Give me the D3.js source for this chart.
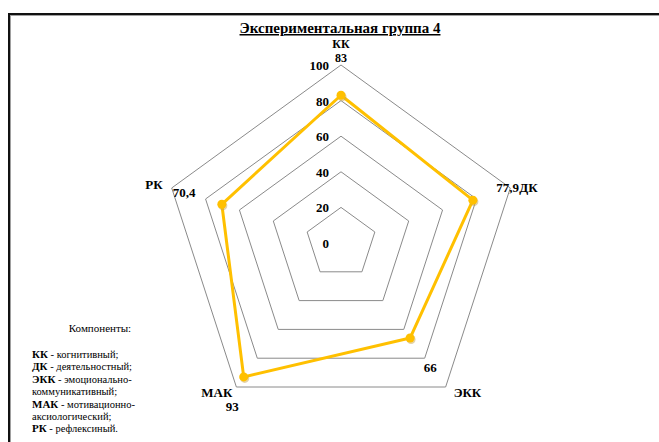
<!DOCTYPE html>
<html>
<head>
<meta charset="utf-8">
<script src="https://cdn.jsdelivr.net/npm/d3@7"></script>
<style>
  body { margin: 0; background: #fff; }
  svg { display: block; font-family: "Liberation Serif", "Times New Roman", serif; }
</style>
</head>
<body>
<svg id="chart" width="659" height="442"></svg>
<script>
// Chart data
const categories = ["КК", "ДК", "ЭКК", "МАК", "РК"];
const values = [83, 77.9, 66, 93, 70.4];
const valueLabels = ["83", "77,9", "66", "93", "70,4"];
const ringTicks = [20, 40, 60, 80, 100];
const tickLabels = ["0", "20", "40", "60", "80", "100"];

const svg = d3.select("#chart");

// Frame (black line with grey shadow)
svg.append("path")
    .attr("d", "M10,442 L10,15 L659,15")
    .attr("fill", "none").attr("stroke", "#a0a0a0").attr("stroke-width", 2);
svg.append("path")
    .attr("d", "M9,442 L9,14 L659,14")
    .attr("fill", "none").attr("stroke", "#111").attr("stroke-width", 2);

// Title
svg.append("text")
    .attr("x", 340).attr("y", 33)
    .attr("text-anchor", "middle")
    .style("font-size", "15px")
    .style("font-weight", "bold")
    .style("text-decoration", "underline")
    .text("Экспериментальная группа 4");

const cx = 341, cy = 243, R = 178;
const r = d3.scaleLinear().domain([0, 100]).range([0, R]);
const angle = d3.scalePoint().domain(categories).range([0, 2 * Math.PI * 4 / 5]);

function pt(cat, v) {
    const a = angle(cat) - Math.PI / 2;
    return [cx + r(v) * Math.cos(a), cy + r(v) * Math.sin(a)];
}

const g = svg.append("g");

// Ring gridlines
ringTicks.forEach(t => {
    g.append("path")
        .attr("d", d3.line()(categories.map(c => pt(c, t))) + "Z")
        .attr("fill", "none")
        .attr("stroke", "#8a8a8a")
        .attr("stroke-width", 1);
});

// Radial tick labels
[0].concat(ringTicks).forEach((t, i) => {
    g.append("text")
        .attr("x", cx - 12)
        .attr("y", cy - r(t) + 5)
        .attr("text-anchor", "end")
        .style("font-size", "13px")
        .style("font-weight", "bold")
        .text(tickLabels[i]);
});

// Data line
const pts = categories.map((c, i) => pt(c, values[i]));
g.append("path")
    .attr("d", d3.line()(pts) + "Z")
    .attr("fill", "none")
    .attr("stroke", "#ffc000")
    .attr("stroke-width", 3)
    .attr("stroke-linejoin", "round");

// Markers with soft shadow
pts.forEach(p => {
    g.append("circle")
        .attr("cx", p[0] + 1).attr("cy", p[1] + 1.5).attr("r", 4.5)
        .attr("fill", "#c9a650").attr("opacity", 0.5);
    g.append("circle")
        .attr("cx", p[0]).attr("cy", p[1]).attr("r", 4.5)
        .attr("fill", "#ffc000");
});

// Category labels and value labels (offsets relative to outer vertex)
const catOffsets = [[0, -17], [9, 4], [8, 10], [-4, 10], [-9, 1]];
const catAnchor = ["middle", "start", "start", "end", "end"];
const valOffsets = [[0, -3], [-14, 4], [-22, -15], [-4, 24], [1, 9]];
const valAnchor = ["middle", "start", "start", "middle", "start"];
categories.forEach((c, i) => {
    const p = pt(c, 100);
    g.append("text")
        .attr("x", p[0] + catOffsets[i][0])
        .attr("y", p[1] + catOffsets[i][1])
        .attr("text-anchor", catAnchor[i])
        .style("font-size", i === 0 ? "12px" : "13px")
        .style("font-weight", "bold")
        .text(c);
    g.append("text")
        .attr("x", p[0] + valOffsets[i][0])
        .attr("y", p[1] + valOffsets[i][1])
        .attr("text-anchor", valAnchor[i])
        .style("font-size", i === 0 ? "12px" : "13px")
        .style("font-weight", "bold")
        .text(valueLabels[i]);
});

// Legend / notes
const notes = [
    [["КК", true], [" - когнитивный;", false]],
    [["ДК", true], [" - деятельностный;", false]],
    [["ЭКК", true], [" - эмоционально-", false]],
    [["", false], ["коммуникативный;", false]],
    [["МАК", true], [" - мотивационно-", false]],
    [["", false], ["аксиологический;", false]],
    [["РК", true], [" - рефлексиный.", false]]
];
svg.append("text")
    .attr("x", 100).attr("y", 332)
    .attr("text-anchor", "middle")
    .style("font-size", "11px")
    .text("Компоненты:");
notes.forEach((line, i) => {
    const t = svg.append("text")
        .attr("x", 32).attr("y", 358 + i * 12.4)
        .style("font-size", "10.5px");
    line.forEach(([s, b]) => {
        if (!s) return;
        t.append("tspan")
            .style("font-weight", b ? "bold" : "normal")
            .style("font-size", b ? "11px" : "10.5px")
            .text(s);
    });
});
</script>
</body>
</html>
